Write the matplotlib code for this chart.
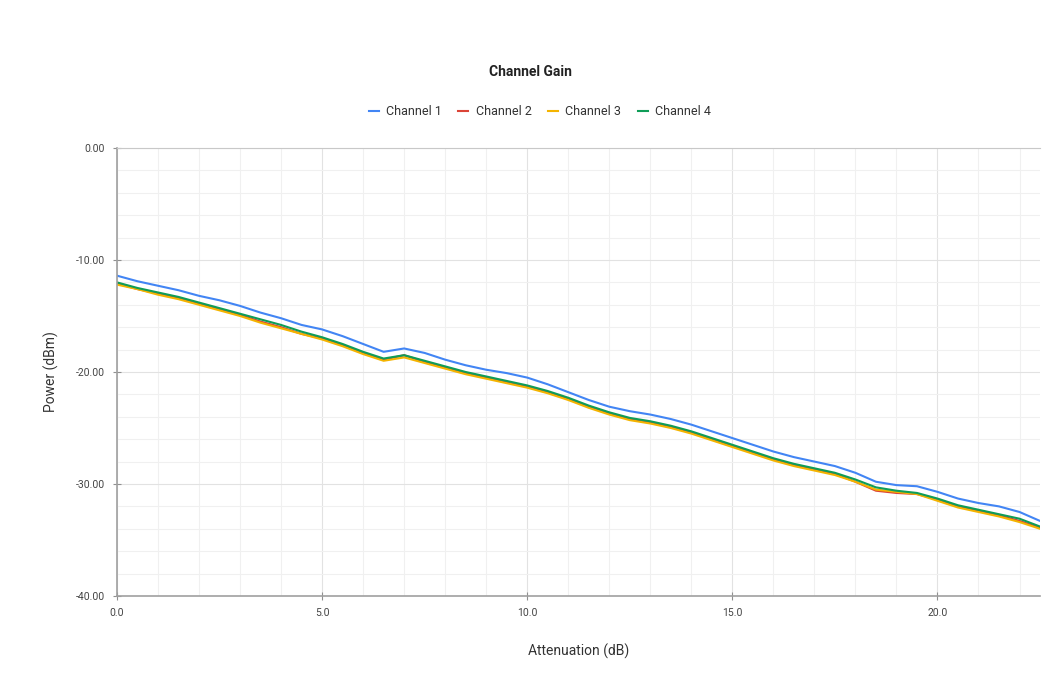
import matplotlib
matplotlib.use("Agg")
import matplotlib.pyplot as plt
from matplotlib.ticker import MultipleLocator, FormatStrFormatter

plt.rcParams['font.family'] = ['Roboto', 'DejaVu Sans']

# --- data ---
attenuation = [0.0, 0.5, 1.0, 1.5, 2.0, 2.5, 3.0, 3.5, 4.0, 4.5,
               5.0, 5.5, 6.0, 6.5, 7.0, 7.5, 8.0, 8.5, 9.0, 9.5,
               10.0, 10.5, 11.0, 11.5, 12.0, 12.5, 13.0, 13.5, 14.0, 14.5,
               15.0, 15.5, 16.0, 16.5, 17.0, 17.5, 18.0, 18.5, 19.0, 19.5,
               20.0, 20.5, 21.0, 21.5, 22.0, 22.5]

channel_1 = [-11.4, -11.9, -12.3, -12.7, -13.2, -13.6, -14.1, -14.7, -15.2, -15.8,
             -16.2, -16.8, -17.5, -18.2, -17.9, -18.3, -18.9, -19.4, -19.8, -20.1,
             -20.5, -21.1, -21.8, -22.5, -23.1, -23.5, -23.8, -24.2, -24.7, -25.3,
             -25.9, -26.5, -27.1, -27.6, -28.0, -28.4, -29.0, -29.8, -30.1, -30.2,
             -30.7, -31.3, -31.7, -32.0, -32.5, -33.3]

channel_2 = [-12.1, -12.6, -13.0, -13.4, -13.9, -14.4, -14.9, -15.5, -16.0, -16.6,
             -17.0, -17.6, -18.3, -18.9, -18.5, -19.1, -19.6, -20.1, -20.5, -20.9,
             -21.3, -21.8, -22.4, -23.1, -23.7, -24.2, -24.5, -24.9, -25.4, -26.0,
             -26.6, -27.2, -27.8, -28.3, -28.7, -29.1, -29.8, -30.6, -30.8, -30.9,
             -31.4, -32.0, -32.4, -32.8, -33.3, -33.9]

channel_3 = [-12.2, -12.6, -13.1, -13.5, -14.0, -14.5, -15.0, -15.6, -16.1, -16.6,
             -17.1, -17.7, -18.4, -19.0, -18.7, -19.2, -19.7, -20.2, -20.6, -21.0,
             -21.4, -21.9, -22.5, -23.2, -23.8, -24.3, -24.6, -25.0, -25.5, -26.1,
             -26.7, -27.3, -27.9, -28.4, -28.8, -29.2, -29.8, -30.5, -30.7, -30.9,
             -31.5, -32.1, -32.5, -32.9, -33.4, -34.0]

channel_4 = [-12.0, -12.5, -12.9, -13.3, -13.8, -14.3, -14.8, -15.3, -15.8, -16.4,
             -16.9, -17.5, -18.2, -18.8, -18.5, -19.0, -19.5, -20.0, -20.4, -20.8,
             -21.2, -21.7, -22.3, -23.0, -23.6, -24.1, -24.4, -24.8, -25.3, -25.9,
             -26.5, -27.1, -27.7, -28.2, -28.6, -29.0, -29.6, -30.3, -30.6, -30.8,
             -31.3, -31.9, -32.3, -32.7, -33.1, -33.8]

series = [("Channel 1", channel_1, "#4285F4"),
          ("Channel 2", channel_2, "#DB4437"),
          ("Channel 3", channel_3, "#F4B400"),
          ("Channel 4", channel_4, "#0F9D58")]

fig = plt.figure(figsize=(10.48, 6.86), dpi=100)
ax = fig.add_axes([0.1116, 0.1312, 0.8808, 0.6531])

for name, values, color in series:
    ax.plot(attenuation, values, color=color, linewidth=1.5, label=name,
            solid_joinstyle='round')

ax.set_xlim(0, 22.5)
ax.set_ylim(-40, 0)

ax.xaxis.set_major_locator(MultipleLocator(5))
ax.xaxis.set_minor_locator(MultipleLocator(1))
ax.yaxis.set_major_locator(MultipleLocator(10))
ax.yaxis.set_minor_locator(MultipleLocator(2))
ax.xaxis.set_major_formatter(FormatStrFormatter('%.1f'))
ax.yaxis.set_major_formatter(FormatStrFormatter('%.2f'))

ax.grid(True, which='major', color='#e2e2e2', linewidth=0.8)
ax.grid(True, which='minor', color='#f0f0f0', linewidth=0.8)
ax.set_axisbelow(True)

ax.spines['right'].set_visible(False)
ax.spines['top'].set_color('#c8c8c8')
ax.spines['left'].set_color('#a0a0a0')
ax.spines['bottom'].set_color('#a0a0a0')
ax.spines['left'].set_linewidth(1.2)
ax.spines['bottom'].set_linewidth(1.2)

ax.tick_params(which='major', direction='inout', length=6, width=0.8,
               color='#909090', labelsize=7.5, labelcolor='#444444', pad=6)
ax.tick_params(which='minor', length=0)

ax.set_xlabel("Attenuation (dB)", fontsize=10, color='#333333', labelpad=18)
ax.set_ylabel("Power (dBm)", fontsize=10, color='#333333', labelpad=12)

fig.text(0.506, 0.895, "Channel Gain", ha='center', va='center',
         fontsize=10, fontweight='bold', color='#222222')

ax.legend(loc='center', bbox_to_anchor=(0.515, 0.837), bbox_transform=fig.transFigure,
          ncol=4, frameon=False, fontsize=9, handlelength=0.8,
          columnspacing=1.3, handletextpad=0.6, labelcolor='#333333')

fig.savefig("out.png", dpi=100)
